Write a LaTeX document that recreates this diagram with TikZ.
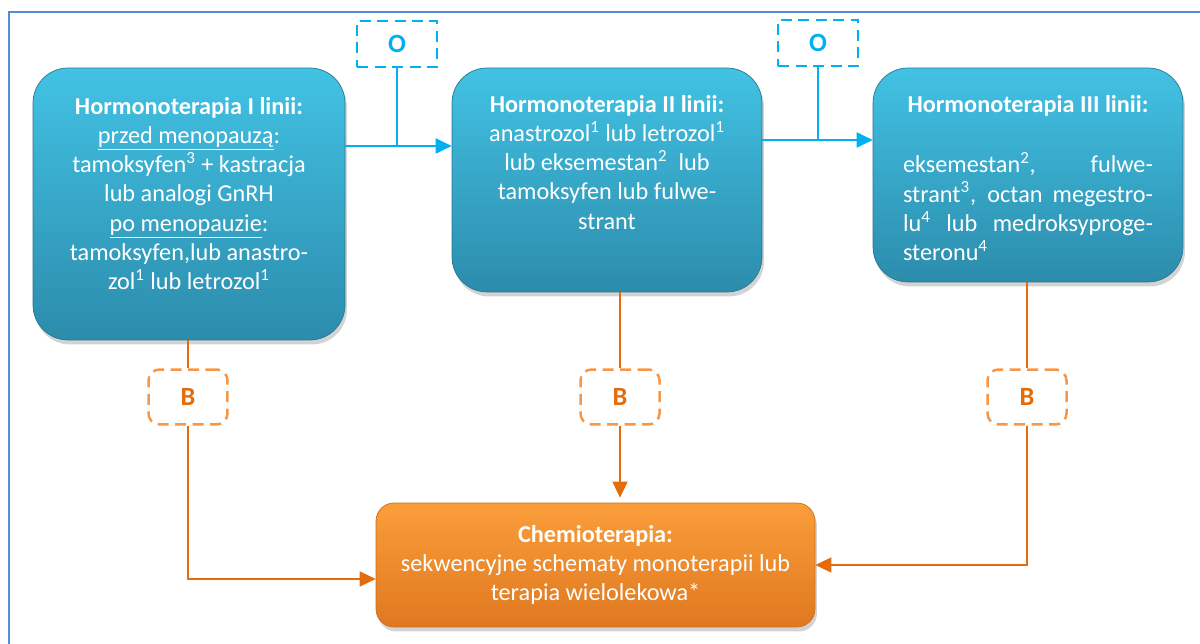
\documentclass[tikz,border=0pt]{standalone}
\usepackage{fontspec}
\setmainfont{Carlito}
\usetikzlibrary{arrows.meta,shadows,calc}
\definecolor{frameblue}{RGB}{84,141,212}
\definecolor{cblue}{RGB}{0,176,240}
\definecolor{tealtop}{RGB}{66,194,228}
\definecolor{tealbot}{RGB}{44,140,172}
\definecolor{orgtop}{RGB}{250,158,58}
\definecolor{orgbot}{RGB}{224,120,32}
\definecolor{oline}{RGB}{228,108,10}
\definecolor{odash}{RGB}{247,150,70}
\newcommand{\mfs}{\fontsize{13.8pt}{16.65pt}\selectfont}
\newcommand{\tbox}[4]{\parbox[c][#2][t]{#1}{\vspace*{#3}\centering #4\par}}
\tikzset{
  hbox/.style={rounded corners=0.7cm, top color=tealtop, bottom color=tealbot,
    draw=tealbot!85!black, line width=0.4pt, inner sep=0pt, text=white, font=\mfs,
    drop shadow={shadow xshift=0.04cm, shadow yshift=-0.09cm, opacity=0.35}},
  cbox/.style={rounded corners=0.36cm, top color=orgtop, bottom color=orgbot,
    draw=orgbot!90!black, line width=0.4pt, text=white, font=\mfs, align=center,
    minimum width=8.78cm, minimum height=2.48cm,
    drop shadow={shadow xshift=0.04cm, shadow yshift=-0.09cm, opacity=0.35}},
  obox/.style={draw=cblue, line width=0.05cm, dash pattern=on 0.22cm off 0.13cm,
    minimum width=1.6cm, minimum height=0.92cm, text=cblue, font=\fontsize{15pt}{18pt}\selectfont\bfseries},
  bbox/.style={draw=odash, line width=0.05cm, dash pattern=on 0.22cm off 0.13cm,
    rounded corners=0.22cm, minimum width=1.58cm, minimum height=1.1cm, text=oline,
    font=\fontsize{15pt}{18pt}\selectfont\bfseries},
  bl/.style={draw=cblue, line width=0.04cm},
  ol/.style={draw=oline, line width=0.03cm},
  tip/.style={-{Triangle[length=0.32cm,width=0.3cm]}}
}
\begin{document}
\begin{tikzpicture}[x=0.02cm,y=-0.02cm]
\useasboundingbox (0,0) rectangle (1200,644);
\draw[frameblue, line width=0.05cm] (9,644) -- (9,12) -- (1200,12);

\node[hbox] (h1) at (189,204) {\tbox{6.24cm}{5.44cm}{0.58cm}{%
{\bfseries Hormonoterapia I linii:}\\
\underline{przed menopauzą}:\\
tamoksyfen\textsuperscript{3} + kastracja\\
lub analogi GnRH\\
\underline{po menopauzie}:\\
tamoksyfen,lub anastro-\\
zol\textsuperscript{1} lub letrozol\textsuperscript{1}}};

\node[hbox] (h2) at (607,180) {\tbox{6.2cm}{4.48cm}{0.54cm}{%
{\bfseries Hormonoterapia II linii:}\\
anastrozol\textsuperscript{1} lub letrozol\textsuperscript{1}\\
lub eksemestan\textsuperscript{2}\ \ lub\\
tamoksyfen lub fulwe-\\
strant}};

\node[hbox] (h3) at (1028,175) {\tbox{6.2cm}{4.28cm}{0.54cm}{%
{\bfseries Hormonoterapia III linii:}\\[20pt]
\parbox{5cm}{\makebox[5cm][s]{eksemestan\textsuperscript{2}, fulwe-}\\
\makebox[5cm][s]{strant\textsuperscript{3}, octan megestro-}\\
\makebox[5cm][s]{lu\textsuperscript{4} lub medroksyproge-}\\
steronu\textsuperscript{4}}}};

\node[cbox] (ch) at (595.5,565) {{\bfseries Chemioterapia:}\\
sekwencyjne schematy monoterapii lub\\
terapia wielolekowa*};

\node[obox] (o1) at (397,44) {O};
\node[obox] (o2) at (818,43) {O};
\node[bbox] (b1) at (188,397) {B};
\node[bbox] (b2) at (620,397) {B};
\node[bbox] (b3) at (1027,397) {B};

\coordinate (j1) at (397,146);
\coordinate (j2) at (818,140);
\draw[bl] (o1.south) -- (j1);
\draw[bl,tip] (h1.east |- j1) -- (h2.west |- j1);
\draw[bl] (o2.south) -- (j2);
\draw[bl,tip] (h2.east |- j2) -- (h3.west |- j2);

\coordinate (c1) at (188,579);
\draw[ol] (h1.south -| b1) -- (b1.north);
\draw[ol] (h2.south -| b2) -- (b2.north);
\draw[ol] (h3.south -| b3) -- (b3.north);
\draw[ol,tip] (b1.south) -- (b1.south |- c1) -- (ch.west |- c1);
\draw[ol,tip,shorten >=0.1cm] (b2.south) -- (ch.north -| b2.south);
\draw[ol,tip] (b3.south) -- (b3.south |- ch.east) -- (ch.east);
\end{tikzpicture}
\end{document}
